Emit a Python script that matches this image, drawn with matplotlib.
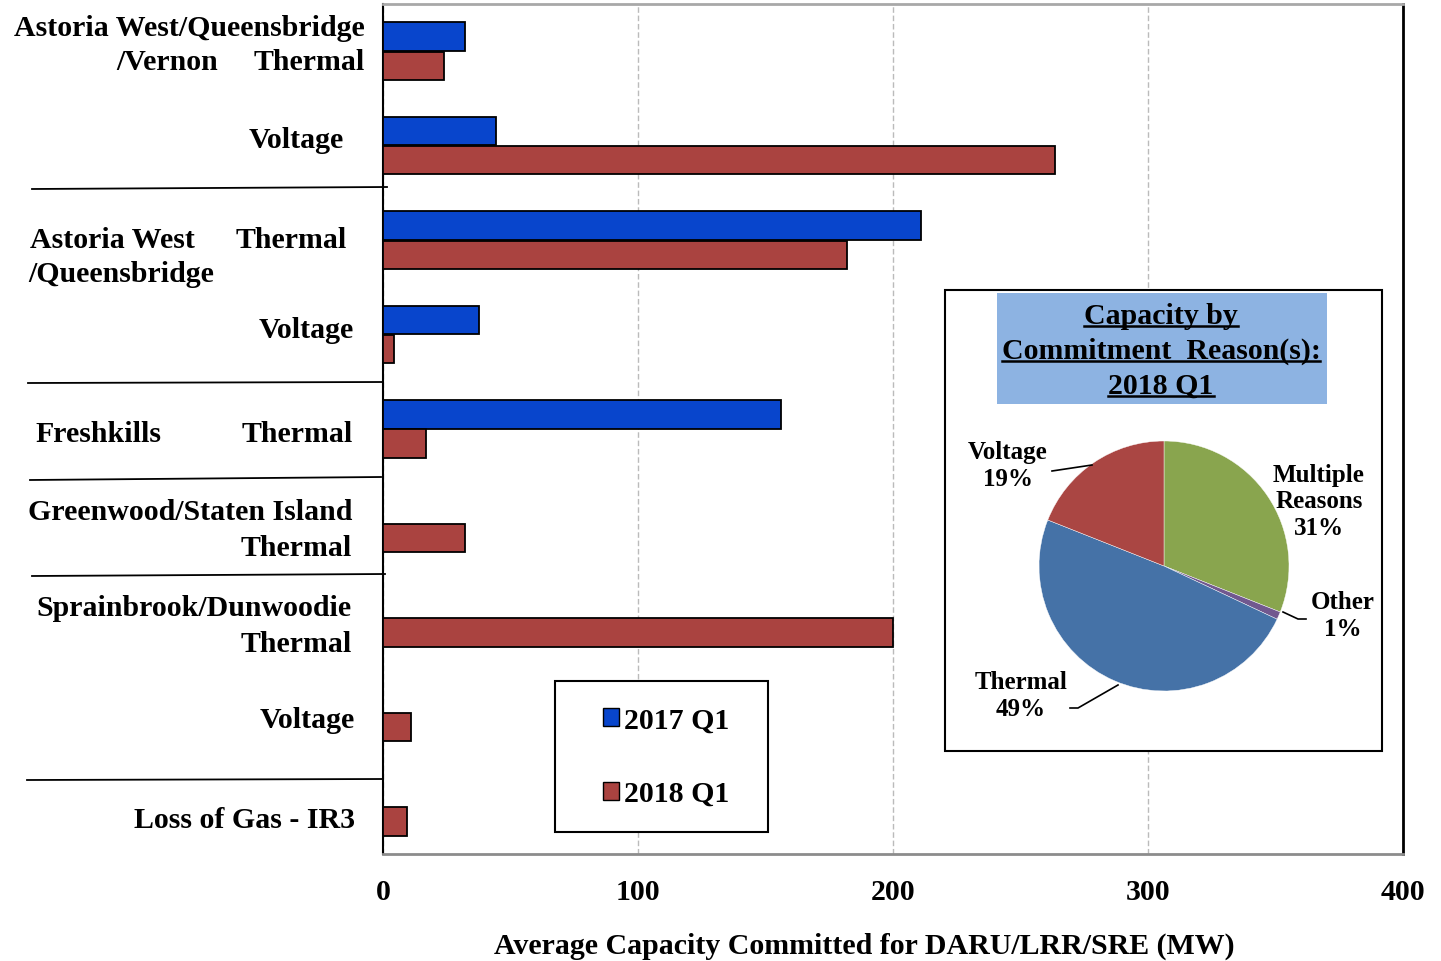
import matplotlib
matplotlib.use('Agg')
import matplotlib.pyplot as plt
from matplotlib.lines import Line2D
from matplotlib.patches import Rectangle, Patch
import numpy as np

plt.rcParams['font.family'] = ['Liberation Serif', 'DejaVu Serif']
plt.rcParams['font.weight'] = 'bold'

W, H = 1441, 962
FS = 21.5

# Rows top to bottom (site / reason)
rows = ['AWQV Thermal', 'AWQV Voltage', 'AWQ Thermal', 'AWQ Voltage',
        'Freshkills Thermal', 'Greenwood Thermal', 'Sprainbrook Thermal',
        'Sprainbrook Voltage', 'Loss of Gas - IR3']
mw_2017 = [32, 44.5, 211, 37.5, 156, 0, 0, 0, 0]
mw_2018 = [24, 263.5, 182, 4.5, 17, 32, 200, 11, 9.5]

# Pie: 2018 Q1 share by commitment reason
pie_labels = ['Multiple\nReasons', 'Other', 'Thermal', 'Voltage']
pie_pct = [31, 1, 49, 19]
pie_colors = ['#89A54E', '#71588F', '#4572A7', '#AA4643']

BLUE = '#0845CC'
RED = '#AA4340'


def fx(px):
    return px / W


def fy(py):
    return 1 - py / H


fig = plt.figure(figsize=(W / 100, H / 100), dpi=100)
ax = fig.add_axes([fx(383), fy(855), fx(1403) - fx(383), fy(5) - fy(855)])

y = np.arange(len(rows))
ax.barh(y - 0.155, mw_2017, height=0.3, color=BLUE, edgecolor='black', linewidth=1.3, zorder=3)
ax.barh(y + 0.155, mw_2018, height=0.3, color=RED, edgecolor='black', linewidth=1.3, zorder=3)

ax.set_xlim(0, 400)
ax.set_ylim(len(rows) - 0.5, -0.5)
ax.set_yticks([])
ax.set_xticks([0, 100, 200, 300, 400])
ax.tick_params(axis='x', length=0, pad=17, labelsize=FS)
for t in ax.get_xticklabels():
    t.set_fontweight('bold')
ax.grid(axis='x', color='#BBBBBB', linestyle=(0, (4, 2)), linewidth=1.0, zorder=0)
ax.spines['left'].set_color('black')
ax.spines['left'].set_linewidth(1.5)
ax.spines['right'].set_color('black')
ax.spines['right'].set_linewidth(2)
ax.spines['bottom'].set_color('#8C8C8C')
ax.spines['bottom'].set_linewidth(2)
ax.spines['top'].set_color('#A8A8A8')
ax.spines['top'].set_linewidth(2)

fig.text(fx(864), fy(946), 'Average Capacity Committed for DARU/LRR/SRE (MW)',
         ha='center', va='center', fontsize=FS, fontweight='bold')

# category labels: (text, x px, y px, ha)
row_text = [
    ('Astoria West/Queensbridge', 365, 28, 'right'),
    ('/Vernon', 116, 63, 'left'),
    ('Thermal', 365, 63, 'right'),
    ('Voltage', 344, 140, 'right'),
    ('Astoria West', 30, 240, 'left'),
    ('Thermal', 347, 240, 'right'),
    ('/Queensbridge', 28, 275, 'left'),
    ('Voltage', 354, 331, 'right'),
    ('Freshkills', 35, 435, 'left'),
    ('Thermal', 353, 435, 'right'),
    ('Greenwood/Staten Island', 352, 513, 'right'),
    ('Thermal', 352, 549, 'right'),
    ('Sprainbrook/Dunwoodie', 351, 609, 'right'),
    ('Thermal', 352, 644, 'right'),
    ('Voltage', 355, 721, 'right'),
    ('Loss of Gas - IR3', 355, 820, 'right'),
]
for txt, px, py, ha in row_text:
    fig.text(fx(px), fy(py), txt, ha=ha, va='center', fontsize=FS, fontweight='bold')

# group separators
for x0, x1, y0, y1 in [(32, 387, 190, 188), (28, 383, 384, 383), (30, 381, 481, 478),
                       (32, 385, 577, 575), (27, 383, 781, 780)]:
    fig.add_artist(Line2D([fx(x0), fx(x1)], [fy(y0), fy(y1)], color='black', linewidth=1.3))

# legend box
fig.add_artist(Rectangle((fx(555), fy(833)), fx(768) - fx(555), fy(682) - fy(833),
                         facecolor='white', edgecolor='black', linewidth=1.5, zorder=2))
handles = [Patch(facecolor=BLUE, edgecolor='black', label='2017 Q1'),
           Patch(facecolor=RED, edgecolor='black', label='2018 Q1')]
fig.legend(handles=handles, loc='center', bbox_to_anchor=(fx(666), fy(758)),
           frameon=False, handlelength=0.55, handleheight=0.55,
           handletextpad=0.15, labelspacing=1.55, prop={'weight': 'bold', 'size': FS})

# pie inset box and title
fig.add_artist(Rectangle((fx(945), fy(752)), fx(1382) - fx(945), fy(291) - fy(752),
                         facecolor='white', edgecolor='black', linewidth=1.5, zorder=2))
fig.add_artist(Rectangle((fx(997), fy(405)), fx(1327) - fx(997), fy(294) - fy(405),
                         facecolor='#8DB3E2', edgecolor='none', zorder=3))
title_lines = [('Capacity by', 316), ('Commitment  Reason(s):', 351), ('2018 Q1', 386)]
title_texts = []
for txt, py in title_lines:
    title_texts.append(fig.text(fx(1161), fy(py), txt, ha='center', va='center',
                                fontsize=FS, fontweight='bold', zorder=4))

r = 125
pax = fig.add_axes([fx(1164 - r), fy(567 + r), 2 * r / W, 2 * r / H], zorder=5)
pax.pie(pie_pct, colors=pie_colors, startangle=90, counterclock=False,
        wedgeprops={'edgecolor': 'white', 'linewidth': 0.3})
pax.set_xlim(-1, 1)
pax.set_ylim(-1, 1)
pax.axis('off')

pie_text = [('Voltage\n19%', 1008, 466), ('Multiple\nReasons\n31%', 1319, 502),
            ('Other\n1%', 1343, 616), ('Thermal\n49%', 1021, 696)]
for txt, px, py in pie_text:
    fig.text(fx(px), fy(py), txt, ha='center', va='center', fontsize=18,
             fontweight='bold', linespacing=1.22, zorder=6)

leaders = [[(1052, 472), (1092, 466)],
           [(1283, 613), (1298, 620), (1306, 620)],
           [(1070, 709), (1078, 709), (1118, 686)]]
for pts in leaders:
    xs = [fx(p[0]) for p in pts]
    ys = [fy(p[1]) for p in pts]
    fig.add_artist(Line2D(xs, ys, color='black', linewidth=1.2, zorder=6))

# underline the title lines
fig.canvas.draw()
renderer = fig.canvas.get_renderer()
inv = fig.transFigure.inverted()
for t in title_texts:
    bb = t.get_window_extent(renderer)
    (x0, y0), (x1, _) = inv.transform([(bb.x0, bb.y0), (bb.x1, bb.y1)])
    fig.add_artist(Line2D([x0, x1], [y0 + 3 / H, y0 + 3 / H], color='black',
                          linewidth=1.8, zorder=4))

fig.savefig('out.png', dpi=100)
